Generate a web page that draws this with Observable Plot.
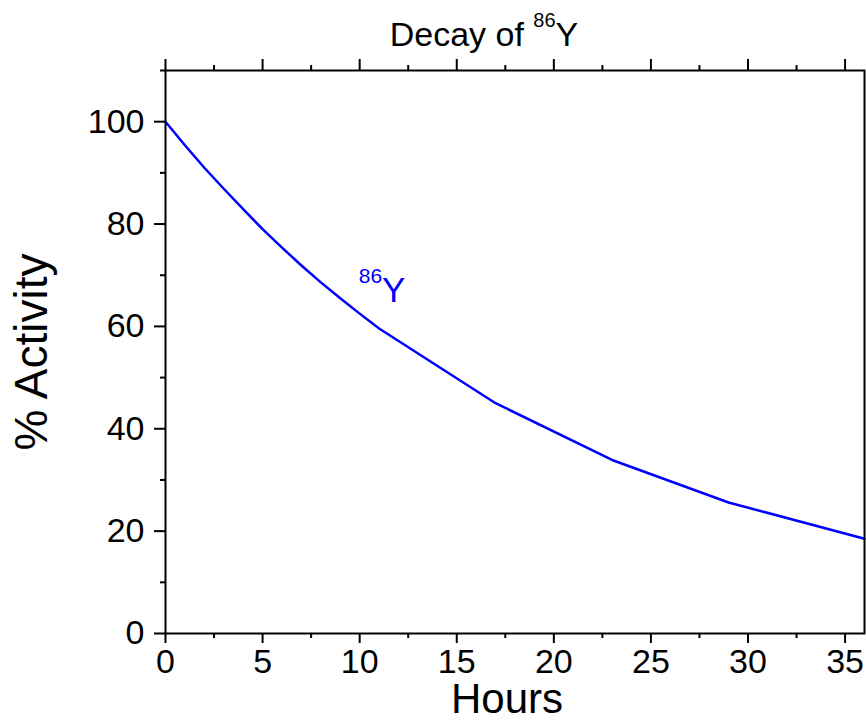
<!DOCTYPE html>
<html><head><meta charset="utf-8">
<script src="https://cdn.jsdelivr.net/npm/d3@7"></script>
<script src="https://cdn.jsdelivr.net/npm/@observablehq/plot@0.6"></script>
<style>body{margin:0;background:#fff;}</style>
</head><body><div id="chart"></div>
<script>
const hours = [0,1,2,3,4,5,6,7,8,9,10,11,17,23,29,36];
const activity = [100,95.4,91.0,86.9,82.9,79.0,75.4,71.9,68.6,65.5,62.5,59.6,45.0,33.9,25.6,18.5];
const xMajorTicks = [0,5,10,15,20,25,30,35];
const xMinorTicks = [2.5,7.5,12.5,17.5,22.5,27.5,32.5];
const yMajorTicks = [0,20,40,60,80,100];
const yMinorTicks = [10,30,50,70,90,110];
const titleText = "Decay of 86Y";
const xLabel = "Hours";
const yLabel = "% Activity";
const seriesLabel = [{x: 9.95, y: 64.8, text: "86Y"}];

const data = hours.map((h, i) => ({hours: h, activity: activity[i]}));
const font = "'Liberation Sans', Arial, sans-serif";

const chart = Plot.plot({
  width: 866, height: 722,
  marginLeft: 165, marginRight: 2, marginTop: 70, marginBottom: 89,
  style: {fontFamily: font, background: "#fff", color: "#000"},
  x: {domain: [0, 36]},
  y: {domain: [0, 110]},
  marks: [
    Plot.line(data, {x: "hours", y: "activity", stroke: "#0000ff", strokeWidth: 2.5}),
    Plot.axisX({ticks: xMajorTicks, tickSize: 10, tickPadding: 5, fontSize: 34, strokeWidth: 2, label: null, tickFormat: d => String(d)}),
    Plot.axisX({ticks: xMinorTicks, tickSize: 5, strokeWidth: 2, label: null, tickFormat: () => ""}),
    Plot.axisX({anchor: "top", ticks: xMajorTicks, tickSize: 12, strokeWidth: 2, label: null, tickFormat: () => ""}),
    Plot.axisX({anchor: "top", ticks: xMinorTicks, tickSize: 6, strokeWidth: 2, label: null, tickFormat: () => ""}),
    Plot.axisY({ticks: yMajorTicks, tickSize: 11, tickPadding: 10, fontSize: 34, strokeWidth: 2, label: null, tickFormat: d => String(d)}),
    Plot.axisY({ticks: yMinorTicks, tickSize: 5, strokeWidth: 2, label: null, tickFormat: () => ""}),
    Plot.frame({stroke: "#000", strokeWidth: 2}),
    Plot.text(seriesLabel, {x: "x", y: "y", text: "text", fill: "#0000ff", fontSize: 35, textAnchor: "start", lineAnchor: "bottom"}),
    Plot.text([titleText], {frameAnchor: "top", text: d => d, fontSize: 34, textAnchor: "middle", lineAnchor: "bottom", dy: -25, dx: -31}),
    Plot.text([xLabel], {frameAnchor: "bottom", text: d => d, fontSize: 42, textAnchor: "middle", lineAnchor: "bottom", dy: 79, dx: -8}),
    Plot.text([yLabel], {frameAnchor: "left", text: d => d, fontSize: 46, textAnchor: "middle", lineAnchor: "bottom", rotate: -90, dx: -119})
  ]
});

function superscript(svg, full, sup, supSize, raise) {
  const ns = "http://www.w3.org/2000/svg";
  svg.querySelectorAll("text").forEach(t => {
    if (t.textContent !== full) return;
    const i = full.indexOf(sup);
    const pre = full.slice(0, i), rest = full.slice(i + sup.length);
    t.textContent = "";
    if (pre) { const a = document.createElementNS(ns, "tspan"); a.textContent = pre; t.appendChild(a); }
    const b = document.createElementNS(ns, "tspan");
    b.textContent = sup; b.setAttribute("font-size", supSize); b.setAttribute("dy", -raise);
    t.appendChild(b);
    const c = document.createElementNS(ns, "tspan");
    c.textContent = rest; c.setAttribute("dy", raise);
    t.appendChild(c);
  });
}
superscript(chart, titleText, "86", 20, 19);
superscript(chart, seriesLabel[0].text, "86", 21, 19);

document.getElementById("chart").appendChild(chart);
</script>
</body></html>
